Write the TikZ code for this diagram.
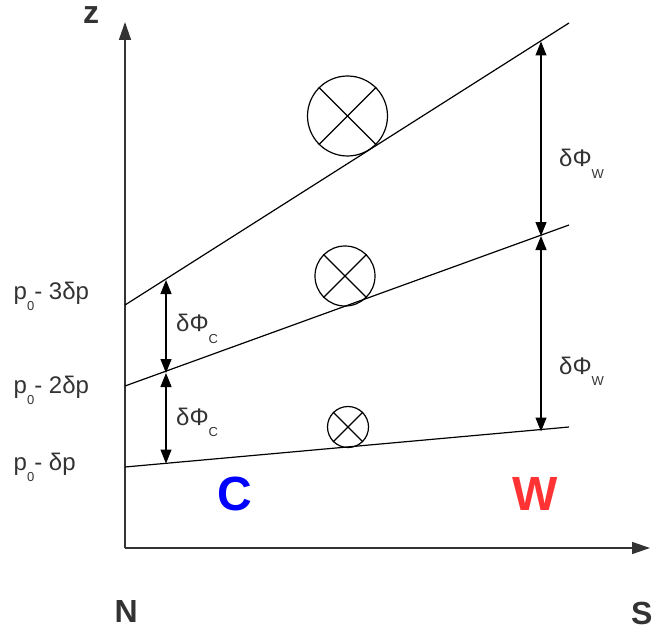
\documentclass[tikz,border=0pt]{standalone}
\usepackage{fontspec}
\setmainfont{Liberation Sans}
\usetikzlibrary{arrows.meta}
\definecolor{txt}{HTML}{333333}
\definecolor{cblue}{HTML}{0000FF}
\definecolor{wred}{HTML}{FF3333}
\tikzset{
  axisline/.style={line width=1.5pt, draw=txt, -{Triangle[length=18pt,width=12pt]}},
  isobar/.style={line width=1.2pt, draw=black},
  dimarrow/.style={line width=1.2pt, {Triangle[length=14pt,width=11pt]}-{Triangle[length=14pt,width=11pt]}},
  lbl/.style={text=txt, font=\fontsize{24}{27}\selectfont, inner sep=0pt, anchor=base west},
  axlbl/.style={text=txt, font=\fontsize{32}{36}\selectfont\bfseries, inner sep=0pt},
  big/.style={font=\fontsize{48}{52}\selectfont\bfseries, inner sep=0pt, anchor=base},
  vortex/.style={draw, circle, line width=1.2pt, inner sep=0pt},
}
\newcommand{\sbs}[1]{\raisebox{-11.5pt}{\fontsize{13}{14}\selectfont #1}}
\begin{document}
\begin{tikzpicture}[x=1pt,y=-1pt]
\useasboundingbox (0,0) rectangle (652,631);
% axes
\coordinate (O) at (125,548);
\coordinate (ztip) at (125,22);
\coordinate (stip) at (650,548);
\draw[axisline] (O) -- (ztip);
\draw[axisline] (O) -- (stip);
\node[axlbl, anchor=base] (zl) at (91,24) {z};
\node[axlbl, anchor=base] (nl) at (126.3,622.7) {N};
\node[axlbl, anchor=base west] (sl) at (631,624.5) {S};
% isobaric lines
\coordinate (a1) at (125,305); \coordinate (a2) at (569,23);
\coordinate (b1) at (125,386); \coordinate (b2) at (569,225);
\coordinate (c1) at (125,467); \coordinate (c2) at (569,427);
\draw[isobar] (a1) -- (a2);
\draw[isobar] (b1) -- (b2);
\draw[isobar] (c1) -- (c2);
% vortices
\node[vortex, minimum size=80pt] (v1) at (347.5,116) {};
\node[vortex, minimum size=60pt] (v2) at (345,276) {};
\node[vortex, minimum size=41pt] (v3) at (348,427) {};
\foreach \v in {v1,v2,v3}{
  \draw[line width=1.2pt] (\v.45) -- (\v.225);
  \draw[line width=1.2pt] (\v.135) -- (\v.315);
}
% thickness arrows
\coordinate (ca) at (166,280);
\coordinate (cb) at (166,373);
\coordinate (cc) at (166,463.5);
\draw[dimarrow] (ca) -- (cb);
\draw[dimarrow] (cb) -- (cc);
\coordinate (wa) at (541,41.5);
\coordinate (wb) at (541,236);
\coordinate (wc) at (541,431.5);
\draw[dimarrow] (wa) -- (wb);
\draw[dimarrow] (wb) -- (wc);
% labels
\node[lbl] (pl3) at (13.5,299) {p\sbs{0}- 3δp};
\node[lbl] (pl2) at (13.5,393) {p\sbs{0}- 2δp};
\node[lbl] (pl1) at (13.5,470) {p\sbs{0}- δp};
\node[lbl] (dc1) at (176,331.7) {δΦ\sbs{C}};
\node[lbl] (dc2) at (176,425) {δΦ\sbs{C}};
\node[lbl] (dw1) at (559,167) {δΦ\sbs{W}};
\node[lbl] (dw2) at (559,374) {δΦ\sbs{W}};
\node[big, text=cblue] (cl) at (234.5,510.5) {C};
\node[big, text=wred] (wl) at (535,510.5) {W};
\end{tikzpicture}
\end{document}
